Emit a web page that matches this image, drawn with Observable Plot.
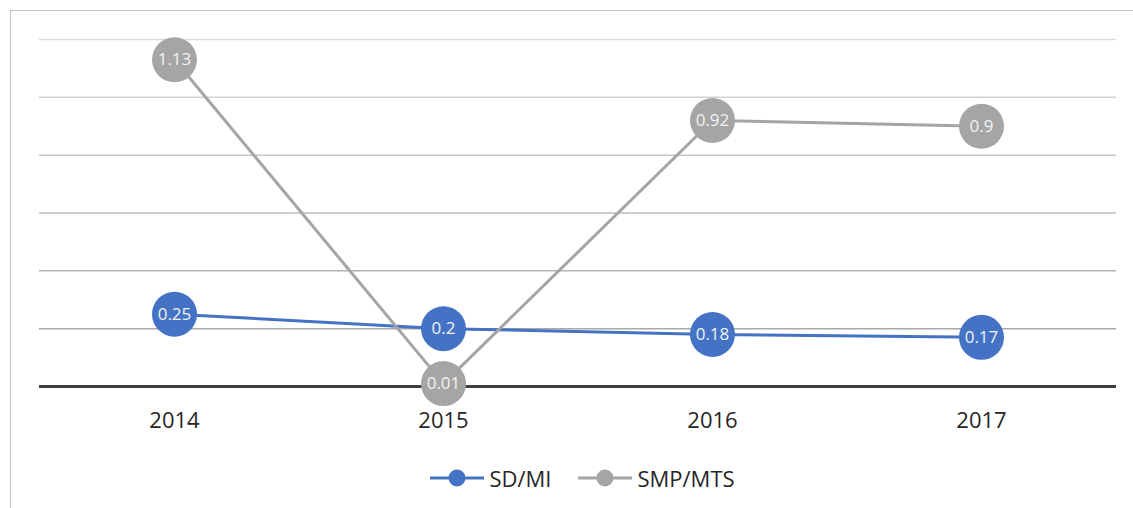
<!DOCTYPE html>
<html>
<head>
<meta charset="utf-8">
<script src="https://cdn.jsdelivr.net/npm/d3@7"></script>
<script src="https://cdn.jsdelivr.net/npm/@observablehq/plot@0.6"></script>
<style>
  html, body { margin: 0; padding: 0; background: #fff; overflow: hidden; }
  body { width: 1133px; height: 508px; position: relative; font-family: "Open Sans", sans-serif; }
  #frame { position: absolute; left: 10px; top: 10px; width: 1300px; height: 700px; border-left: 1.5px solid #c4c4c4; border-top: 1.5px solid #c4c4c4; pointer-events: none; }
  #chart { position: absolute; left: 0; top: 0; }
  #legend { position: absolute; left: 0; top: 458px; width: 1133px; height: 40px; display: flex; justify-content: center; align-items: center; gap: 27px; font-size: 22px; color: #262626; padding-left: 32px; box-sizing: border-box; }
  .item { display: flex; align-items: center; gap: 5px; }
</style>
</head>
<body>
<div id="frame"></div>
<div id="chart"></div>
<div id="legend"></div>
<script>
const years = ["2014", "2015", "2016", "2017"];
const sdmiValues = [0.25, 0.2, 0.18, 0.17];
const smpmtsValues = [1.13, 0.01, 0.92, 0.9];
const seriesNames = ["SD/MI", "SMP/MTS"];
const gridTicks = [0.2, 0.4, 0.6, 0.8, 1.0, 1.2];

const colors = {"SD/MI": "#4472C4", "SMP/MTS": "#A5A5A5"};
const sdmi = years.map((y, i) => ({year: y, value: sdmiValues[i], series: seriesNames[0]}));
const smp = years.map((y, i) => ({year: y, value: smpmtsValues[i], series: seriesNames[1]}));

const shade = d3.interpolateRgb("#a9a9a9", "#e6e6e6");

const fmt = v => String(v);

const seriesMarks = (data) => {
  const c = colors[data[0].series];
  return [
    Plot.line(data, {x: "year", y: "value", stroke: c, strokeWidth: 3}),
    Plot.dot(data, {x: "year", y: "value", r: 22.5, fill: c, stroke: "none"}),
    Plot.text(data, {x: "year", y: "value", text: d => fmt(d.value), fill: "#f2f2f2", fontSize: 17, fontFamily: "'Open Sans', sans-serif"})
  ];
};

const chart = Plot.plot({
  width: 1133,
  height: 445,
  marginTop: 39,
  marginBottom: 59,
  marginLeft: 39,
  marginRight: 17,
  style: {fontFamily: "'Open Sans', sans-serif", color: "#262626", background: "transparent"},
  x: {type: "point", domain: years, padding: 0.5, label: null},
  y: {domain: [0, 1.2], axis: null},
  color: {type: "identity"},
  marks: [
    Plot.ruleY(gridTicks, {y: d => d, stroke: d => shade(d / 1.2 - 0.17), strokeWidth: 1.5}),
    Plot.ruleY([0], {stroke: "#404040", strokeWidth: 3}),
    Plot.axisX({tickSize: 0, tickPadding: 26, fontSize: 22, label: null}),
    ...seriesMarks(sdmi),
    ...seriesMarks(smp)
  ]
});
document.getElementById("chart").appendChild(chart);

const legend = document.getElementById("legend");
for (const name of seriesNames) {
  const c = colors[name];
  const item = document.createElement("div");
  item.className = "item";
  item.innerHTML = `<svg width="54" height="20"><line x1="0" x2="54" y1="10" y2="10" stroke="${c}" stroke-width="3"/><circle cx="27" cy="10" r="8.5" fill="${c}"/></svg><span>${name}</span>`;
  legend.appendChild(item);
}
</script>
</body>
</html>
